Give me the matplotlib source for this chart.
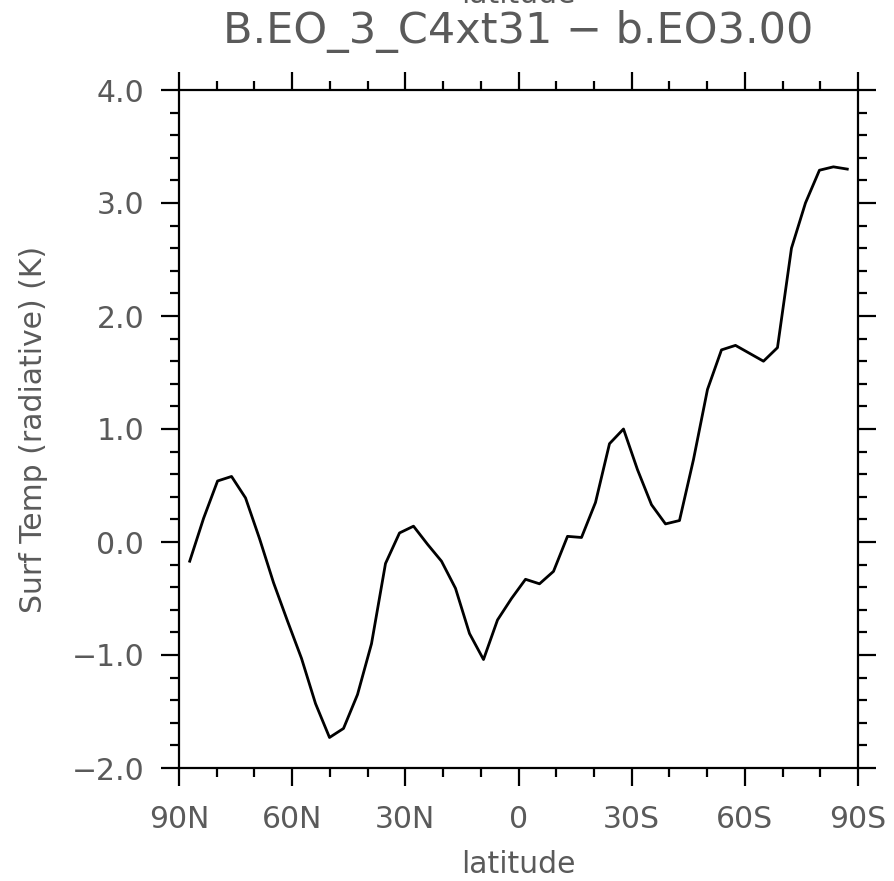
import numpy as np
import matplotlib
matplotlib.use('Agg')
import matplotlib.pyplot as plt
from matplotlib.ticker import MultipleLocator

# Gaussian latitudes of the T31 grid (north half), mirrored for the south
lat_north = [87.159, 83.479, 79.777, 76.070, 72.362, 68.652, 64.942, 61.232,
             57.521, 53.810, 50.099, 46.389, 42.678, 38.967, 35.256, 31.545,
             27.833, 24.122, 20.411, 16.700, 12.989, 9.278, 5.567, 1.856]
lat = lat_north + [-v for v in reversed(lat_north)]

# surface temperature difference (K), north to south
ts_diff = [-0.17, 0.21, 0.54, 0.58, 0.39, 0.03, -0.36, -0.70,
           -1.03, -1.43, -1.73, -1.65, -1.35, -0.90, -0.19, 0.08,
           0.14, -0.02, -0.17, -0.41, -0.81, -1.04, -0.69, -0.50,
           -0.33, -0.37, -0.26, 0.05, 0.04, 0.35, 0.87, 1.00,
           0.64, 0.33, 0.16, 0.19, 0.73, 1.35, 1.70, 1.74,
           1.67, 1.60, 1.72, 2.60, 3.00, 3.29, 3.32, 3.30]

xticks = [90, 60, 30, 0, -30, -60, -90]
xticklabels = ['90N', '60N', '30N', '0', '30S', '60S', '90S']
yticks = [-2.0, -1.0, 0.0, 1.0, 2.0, 3.0, 4.0]

txt = '#5a5a5a'
plt.rcParams['font.family'] = ['DejaVu Sans']

fig = plt.figure(figsize=(8.95, 8.81), dpi=100)
ax = fig.add_axes([179/895, 1-768/881, 679/895, 678/881])

ax.plot(lat, ts_diff, color='black', lw=2.0)

ax.set_xlim(90, -90)
ax.set_ylim(-2.0, 4.0)
ax.set_xticks(xticks)
ax.set_xticklabels(xticklabels)
ax.set_yticks(yticks)
ax.set_yticklabels(['%.1f' % v if v >= 0 else '\u2212%.1f' % -v for v in yticks])
ax.xaxis.set_minor_locator(MultipleLocator(10))
ax.yaxis.set_minor_locator(MultipleLocator(0.2))

for s in ax.spines.values():
    s.set_linewidth(1.6)
ax.tick_params(which='both', direction='out', top=True, right=True,
               width=1.6, labelcolor=txt, labelsize=21.5)
ax.tick_params(which='major', length=13)
ax.tick_params(which='minor', length=6.5)
ax.tick_params(axis='x', pad=14)
ax.tick_params(axis='y', pad=12)

fig.text(518/895, 1-43/881, 'B.EO_3_C4xt31 \u2212 b.EO3.00', ha='center',
         va='baseline', fontsize=31, color=txt)
fig.text(518/895, 1-3/881, 'latitude', ha='center', va='baseline',
         fontsize=21.5, color=txt)
fig.text(518/895, 1-873/881, 'latitude', ha='center', va='baseline',
         fontsize=21.5, color=txt)
fig.text(34/895, 1-429/881, 'Surf Temp (radiative) (K)', rotation=90,
         ha='center', va='center', fontsize=21.5, color=txt)

fig.savefig('out.png', dpi=100)
